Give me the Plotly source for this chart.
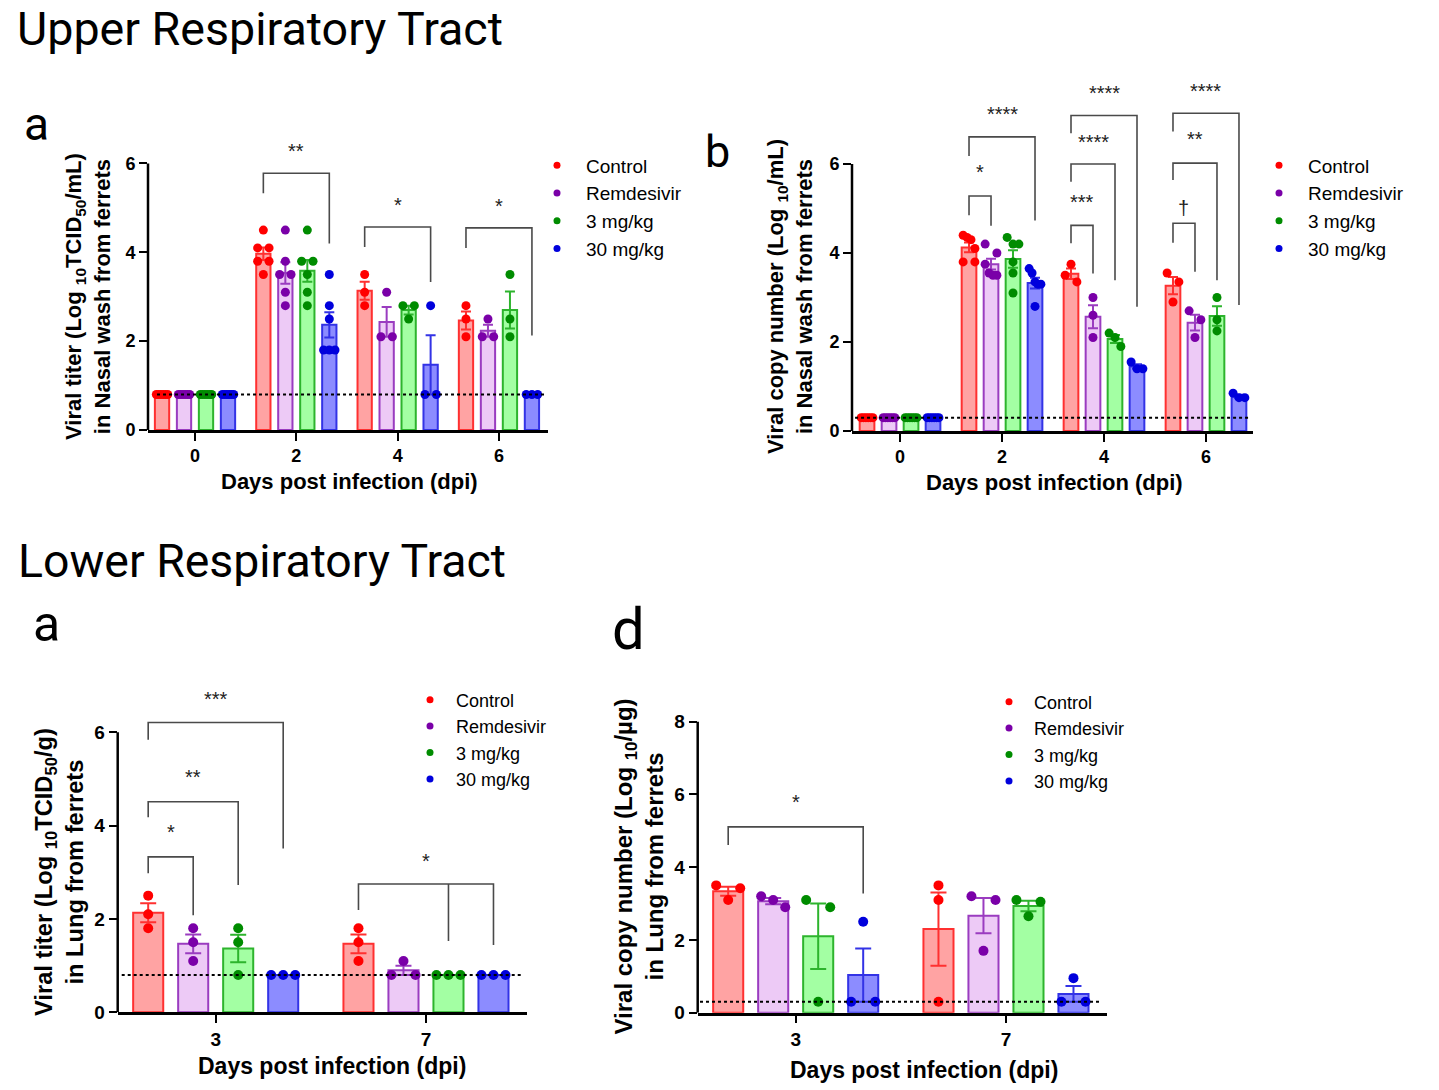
import numpy as np
import plotly.graph_objects as go

W, H = 1439, 1090
FONT = "Liberation Sans, Arial, sans-serif"
TITLE_FONT = "Roboto, Noto Sans, sans-serif"

series_names = ["Control", "Remdesivir", "3 mg/kg", "30 mg/kg"]
point_colors = ["#FF0000", "#7A00A8", "#008C00", "#0000DC"]
bar_fills = ["#FFA3A3", "#EDCAF6", "#A3FFA3", "#8C8CFF"]
bar_lines = ["#FF3030", "#9A3CC0", "#2DB42D", "#3333E6"]

# ---------------- Upper respiratory tract (a): viral titer, nasal wash ----------------
urt_a_days = ["0", "2", "4", "6"]
urt_a_control = [[0.8, 0.8, 0.8, 0.8, 0.8, 0.8], [4.5, 4.1, 4.1, 3.8, 3.8, 3.5], [3.5, 3.1, 2.8], [2.8, 2.5, 2.1]]
urt_a_remdesivir = [[0.8, 0.8, 0.8, 0.8, 0.8, 0.8], [4.5, 3.8, 3.5, 3.5, 3.1, 2.8], [3.1, 2.1, 2.1], [2.5, 2.1, 2.1]]
urt_a_3mg = [[0.8, 0.8, 0.8, 0.8, 0.8, 0.8], [4.5, 3.8, 3.8, 3.5, 3.1, 2.8], [2.8, 2.8, 2.5], [3.5, 2.5, 2.1]]
urt_a_30mg = [[0.8, 0.8, 0.8, 0.8, 0.8, 0.8], [3.5, 2.8, 2.5, 1.8, 1.8, 1.8], [2.8, 0.8, 0.8], [0.8, 0.8, 0.8]]
urt_a_limit = 0.8
urt_a_yticks = [0, 2, 4, 6]
# (label, day index, from series, to series)
urt_a_sig = [("**", 1, 0, 3), ("*", 2, 0, 3), ("*", 3, 0, 3)]

# ---------------- Upper respiratory tract (b): viral copy number, nasal wash ----------------
urt_b_days = ["0", "2", "4", "6"]
urt_b_control = [[0.3, 0.3, 0.3, 0.3, 0.3, 0.3], [4.4, 4.35, 4.3, 4.1, 3.8, 3.8], [3.75, 3.5, 3.35], [3.55, 3.35, 2.9]]
urt_b_remdesivir = [[0.3, 0.3, 0.3, 0.3, 0.3, 0.3], [4.2, 4.0, 3.75, 3.55, 3.5, 3.5], [3.0, 2.6, 2.1], [2.7, 2.5, 2.1]]
urt_b_3mg = [[0.3, 0.3, 0.3, 0.3, 0.3, 0.3], [4.35, 4.2, 4.2, 3.8, 3.55, 3.1], [2.2, 2.1, 1.9], [3.0, 2.5, 2.25]]
urt_b_30mg = [[0.3, 0.3, 0.3, 0.3, 0.3, 0.3], [3.65, 3.55, 3.35, 3.3, 3.3, 2.8], [1.55, 1.4, 1.4], [0.85, 0.75, 0.75]]
urt_b_limit = 0.3
urt_b_yticks = [0, 2, 4, 6]
urt_b_sig = [("*", 1, 0, 1), ("****", 1, 0, 3),
             ("***", 2, 0, 1), ("****", 2, 0, 2), ("****", 2, 0, 3),
             ("\u2020", 3, 0, 1), ("**", 3, 0, 2), ("****", 3, 0, 3)]

# ---------------- Lower respiratory tract (a): viral titer, lung ----------------
lrt_c_days = ["3", "7"]
lrt_c_control = [[2.5, 2.1, 1.8], [1.8, 1.5, 1.1]]
lrt_c_remdesivir = [[1.8, 1.5, 1.1], [1.1, 0.8, 0.8]]
lrt_c_3mg = [[1.8, 1.5, 0.8], [0.8, 0.8, 0.8]]
lrt_c_30mg = [[0.8, 0.8, 0.8], [0.8, 0.8, 0.8]]
lrt_c_limit = 0.8
lrt_c_yticks = [0, 2, 4, 6]
lrt_c_sig = [("*", 0, 0, 1), ("**", 0, 0, 2), ("***", 0, 0, 3), ("*", 1, 0, 3)]

# ---------------- Lower respiratory tract (d): viral copy number, lung ----------------
lrt_d_days = ["3", "7"]
lrt_d_control = [[3.5, 3.42, 3.1], [3.5, 3.1, 0.3]]
lrt_d_remdesivir = [[3.2, 3.1, 2.9], [3.2, 3.1, 1.7]]
lrt_d_3mg = [[3.1, 2.9, 0.3], [3.1, 3.05, 2.65]]
lrt_d_30mg = [[2.5, 0.3, 0.3], [0.95, 0.3, 0.3]]
lrt_d_limit = 0.3
lrt_d_yticks = [0, 2, 4, 6, 8]
lrt_d_sig = [("*", 0, 0, 3)]

# ---------------- bracket geometry (y: top, left-leg end, right-leg end, label; extra legs) ----
urt_a_brk = [(5.78, 5.33, 4.20, 6.34, []), (4.57, 4.12, 3.33, 5.13, []), (4.55, 4.10, 2.13, 5.11, [])]
urt_b_brk = [(5.28, 4.85, 4.61, 5.87, []), (6.61, 6.18, 4.73, 7.18, []),
             (4.62, 4.22, 3.54, 5.21, []), (6.00, 5.60, 3.39, 6.55, []), (7.09, 6.69, 2.79, 7.66, []),
             (4.67, 4.23, 3.58, 5.04, []), (6.02, 5.64, 3.39, 6.61, []), (7.14, 6.73, 2.83, 7.70, [])]
lrt_c_brk = [(3.33, 2.98, 2.08, 3.91, []), (4.51, 4.18, 2.73, 5.09, []), (6.21, 5.84, 3.51, 6.76, []),
             (2.75, 2.19, 1.44, 3.30, [(2, 1.53)])]
lrt_d_brk = [(5.11, 4.61, 3.28, 5.86, [])]

panels = [
    dict(data=[urt_a_control, urt_a_remdesivir, urt_a_3mg, urt_a_30mg], labels=urt_a_days,
         limit=urt_a_limit, yticks=urt_a_yticks, sig=urt_a_sig, brk=urt_a_brk,
         xpx=(148, 548), xr=(-0.464, 3.484), y0=430, ppu=44.42, ytop=6.1,
         step=0.217, bw=0.141, msize=9, cap=5, dl=(-0.375, 3.454), tick_fs=18,
         legend=dict(x=528, y=146.5, fs=19, iw=48),
         ytitle="Viral titer (Log <sub>10</sub>TCID<sub>50</sub>/mL)<br>in Nasal wash from ferrets",
         ytpos=(88, 297), xtpos=(349, 482), xt_fs=22, yt_fs=22),
    dict(data=[urt_b_control, urt_b_remdesivir, urt_b_3mg, urt_b_30mg], labels=urt_b_days,
         limit=urt_b_limit, yticks=urt_b_yticks, sig=urt_b_sig, brk=urt_b_brk,
         xpx=(852, 1253), xr=(-0.471, 3.461), y0=431, ppu=44.5, ytop=7.3,
         step=0.2157, bw=0.144, msize=9, cap=5, dl=(-0.441, 3.431), tick_fs=18,
         legend=dict(x=1250, y=146.5, fs=19, iw=48),
         ytitle="Viral copy number (Log <sub>10</sub>/mL)<br>in Nasal wash from ferrets",
         ytpos=(790, 297), xtpos=(1054, 483), xt_fs=22, yt_fs=22),
    dict(data=[lrt_c_control, lrt_c_remdesivir, lrt_c_3mg, lrt_c_30mg], labels=lrt_c_days,
         limit=lrt_c_limit, yticks=lrt_c_yticks, sig=lrt_c_sig, brk=lrt_c_brk,
         xpx=(117.7, 526.7), xr=(-0.466, 1.479), y0=1012.3, ppu=46.67, ytop=6.35,
         step=0.214, bw=0.143, msize=10, cap=8, dl=(-0.447, 1.455), tick_fs=19,
         legend=dict(x=404, y=681.5, fs=18, iw=42),
         ytitle="Viral titer (Log <sub>10</sub>TCID<sub>50</sub>/g)<br>in Lung from ferrets",
         ytpos=(59, 872), xtpos=(332, 1066), xt_fs=23, yt_fs=23.7),
    dict(data=[lrt_d_control, lrt_d_remdesivir, lrt_d_3mg, lrt_d_30mg], labels=lrt_d_days,
         limit=lrt_d_limit, yticks=lrt_d_yticks, sig=lrt_d_sig, brk=lrt_d_brk,
         xpx=(697.7, 1106.7), xr=(-0.466, 1.479), y0=1012.7, ppu=36.375, ytop=8.2,
         step=0.214, bw=0.143, msize=10, cap=8, dl=(-0.455, 1.455), tick_fs=19,
         legend=dict(x=984, y=683.5, fs=18, iw=40),
         ytitle="Viral copy number (Log <sub>10</sub>/\u00b5g)<br>in Lung from ferrets",
         ytpos=(638.5, 867), xtpos=(924, 1070), xt_fs=23, yt_fs=24),
]


def mean_sem(v):
    a = np.asarray(v, dtype=float)
    m = a.mean()
    s = a.std(ddof=1) / np.sqrt(len(a)) if len(a) > 1 else 0.0
    return m, s


def swarm(vals, ppu, pxx, bw_px, diam):
    n = len(vals)
    order = sorted(range(n), key=lambda i: -vals[i])
    clusters = []
    for i in order:
        if clusters and (vals[clusters[-1][-1]] - vals[i]) * ppu < diam:
            clusters[-1].append(i)
        else:
            clusters.append([i])
    offs = [0.0] * n
    for c in clusters:
        k = len(c)
        if k > 1:
            sp = 0.8 * bw_px / (k - 1)
            for j, i in enumerate(c):
                offs[i] = (j - (k - 1) / 2) * sp / pxx
    return offs


fig = go.Figure()
layout = dict(width=W, height=H, margin=dict(l=0, r=0, t=0, b=0, pad=0, autoexpand=False),
              paper_bgcolor="white", plot_bgcolor="rgba(0,0,0,0)", barmode="overlay",
              showlegend=True, hovermode=False)
shapes, annotations = [], []


def px2paper(x, y):
    return x / W, 1 - y / H


for pi, p in enumerate(panels):
    sfx = "" if pi == 0 else str(pi + 1)
    xn, yn = "x" + sfx, "y" + sfx
    leg_id = "legend" + sfx
    ngroups = len(p["labels"])
    pxx = (p["xpx"][1] - p["xpx"][0]) / (p["xr"][1] - p["xr"][0])
    ytop_px = p["y0"] - p["ytop"] * p["ppu"]
    tickfont = dict(family=FONT, size=p["tick_fs"], color="black", weight="bold")
    layout["xaxis" + sfx] = dict(
        domain=[p["xpx"][0] / W, p["xpx"][1] / W], range=list(p["xr"]), anchor=yn,
        showline=True, linecolor="black", linewidth=2.5, ticks="outside", ticklen=8,
        tickwidth=2, tickcolor="black", tickvals=list(range(ngroups)), ticktext=p["labels"],
        tickfont=tickfont, showgrid=False, zeroline=False, fixedrange=True, automargin=False)
    layout["yaxis" + sfx] = dict(
        domain=[1 - p["y0"] / H, 1 - ytop_px / H], range=[0, p["ytop"]], anchor=xn,
        showline=False, ticks="outside", ticklen=8, tickwidth=2, tickcolor="black",
        tickvals=p["yticks"], tickfont=tickfont, showgrid=False, zeroline=False,
        fixedrange=True, automargin=False)

    for s in range(4):
        groups = p["data"][s]
        ms = [mean_sem(g) for g in groups]
        xb = [g + (s - 1.5) * p["step"] for g in range(ngroups)]
        fig.add_trace(go.Bar(
            x=xb, y=[m for m, _ in ms], width=p["bw"], xaxis=xn, yaxis=yn,
            marker=dict(color=bar_fills[s], line=dict(color=bar_lines[s], width=2)),
            error_y=dict(type="data", array=[e for _, e in ms], visible=True,
                         color=bar_lines[s], thickness=2, width=p["cap"]),
            showlegend=False, hoverinfo="skip"))
    for s in range(4):
        groups = p["data"][s]
        xs, ys = [], []
        for g, vals in enumerate(groups):
            offs = swarm(vals, p["ppu"], pxx, p["bw"] * pxx, p["msize"])
            for v, o in zip(vals, offs):
                xs.append(g + (s - 1.5) * p["step"] + o)
                ys.append(v)
        fig.add_trace(go.Scatter(
            x=xs, y=ys, mode="markers", xaxis=xn, yaxis=yn, cliponaxis=False,
            marker=dict(size=p["msize"], color=point_colors[s]),
            showlegend=False, hoverinfo="skip"))
    for s in range(4):
        fig.add_trace(go.Scatter(
            x=[None], y=[None], mode="markers", xaxis=xn, yaxis=yn, name=series_names[s],
            marker=dict(size=7, color=point_colors[s]), legend=leg_id, showlegend=True))
    lx, ly = px2paper(p["legend"]["x"], p["legend"]["y"])
    layout[leg_id] = dict(x=lx, y=ly, xanchor="left", yanchor="top",
                          font=dict(family=FONT, size=p["legend"]["fs"], color="black"),
                          bgcolor="rgba(0,0,0,0)", borderwidth=0, itemwidth=p["legend"]["iw"],
                          tracegroupgap=0, itemclick=False, itemdoubleclick=False)

    # y axis line (only up to the top tick)
    shapes.append(dict(type="line", xref=xn + " domain", yref=yn, x0=0, x1=0, y0=0,
                       y1=p["yticks"][-1], line=dict(color="black", width=2.5), layer="above"))
    # detection limit
    shapes.append(dict(type="line", xref=xn, yref=yn, x0=p["dl"][0], x1=p["dl"][1],
                       y0=p["limit"], y1=p["limit"], line=dict(color="black", width=2, dash="dot"),
                       layer="above"))
    # significance brackets
    for (lab, g, a, b), (yt, yl, yr, ylab, extra) in zip(p["sig"], p["brk"]):
        xl = g + (a - 1.5) * p["step"]
        xrr = g + (b - 1.5) * p["step"]
        path = f"M {xl},{yl} L {xl},{yt} L {xrr},{yt} L {xrr},{yr}"
        for (k, ye) in extra:
            xm = g + (k - 1.5) * p["step"]
            path += f" M {xm},{yt} L {xm},{ye}"
        shapes.append(dict(type="path", xref=xn, yref=yn, path=path,
                           line=dict(color="#4a4a4a", width=1.6), layer="above"))
        lab_py = p["y0"] - ylab * p["ppu"]
        annotations.append(dict(x=(xl + xrr) / 2, y=1 - lab_py / H, xref=xn, yref="paper", text=lab,
                                showarrow=False, xanchor="center", yanchor="middle",
                                yshift=(-1 if lab == "\u2020" else -2.6),
                                font=dict(family=FONT, size=20, color="#222222")))
    # axis titles
    tx, ty = px2paper(*p["ytpos"])
    annotations.append(dict(x=tx, y=ty, xref="paper", yref="paper", text=p["ytitle"],
                            textangle=-90, showarrow=False, xanchor="center", yanchor="middle",
                            font=dict(family=FONT, size=p["yt_fs"], color="black", weight="bold")))
    tx, ty = px2paper(*p["xtpos"])
    annotations.append(dict(x=tx, y=ty, xref="paper", yref="paper", text="Days post infection (dpi)",
                            showarrow=False, xanchor="center", yanchor="middle",
                            font=dict(family=FONT, size=p["xt_fs"], color="black", weight="bold")))

# section titles and panel letters
for text, x, y, fs, anchor in [("Upper Respiratory Tract", 14.5, 29.3, 46.6, "left"),
                               ("Lower Respiratory Tract", 15.5, 561.3, 46.4, "left"),
                               ("a", 36.7, 124.3, 46, "center"),
                               ("b", 717, 151.3, 45, "center"),
                               ("a", 46.7, 624.4, 50, "center"),
                               ("d", 628, 628.5, 58, "center")]:
    px_, py_ = px2paper(x, y)
    annotations.append(dict(x=px_, y=py_, xref="paper", yref="paper", text=text, showarrow=False,
                            xanchor=anchor, yanchor="middle",
                            font=dict(family=TITLE_FONT, size=fs, color="black")))

layout["shapes"] = shapes
layout["annotations"] = annotations
fig.update_layout(**layout)

fig.write_html("out.html", config={"displayModeBar": False},
               post_script="document.body.style.margin='0';document.body.style.overflow='hidden';")
